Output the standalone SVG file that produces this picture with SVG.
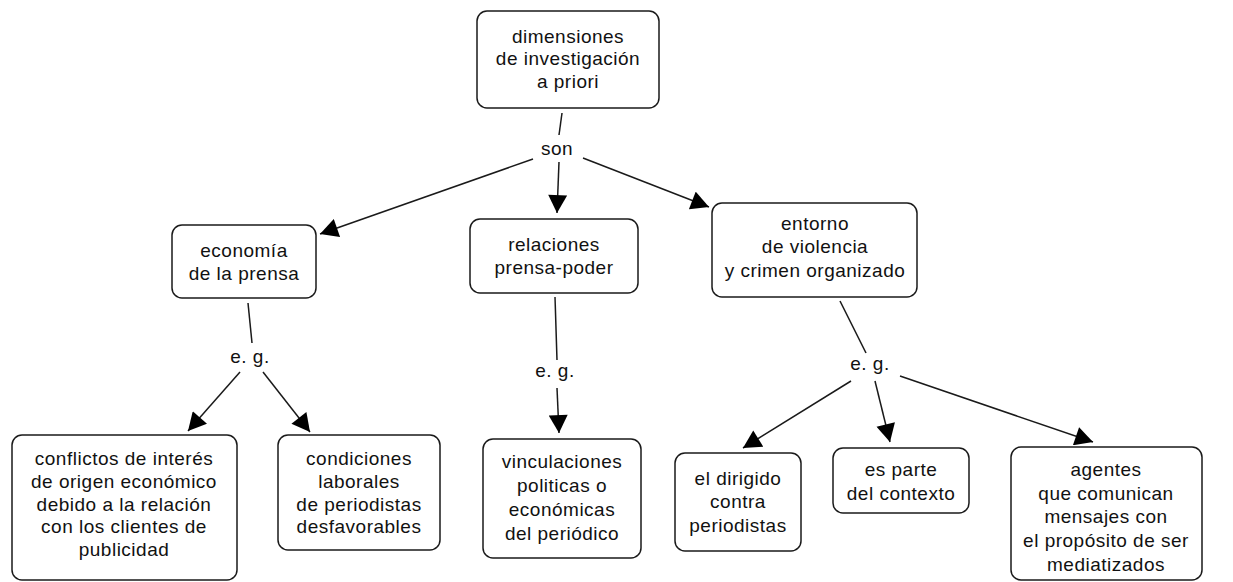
<svg xmlns="http://www.w3.org/2000/svg" width="1233" height="582" viewBox="0 0 1233 582">
<style>
.box{fill:#fff;stroke:#1a1a1a;stroke-width:1.5}
.t{font-family:"Liberation Sans",Arial,sans-serif;font-size:19px;letter-spacing:0.5px;fill:#111;text-anchor:middle}
.c{fill:none;stroke:#1a1a1a;stroke-width:1.5}
</style>
<defs>
<marker id="ah" markerUnits="userSpaceOnUse" markerWidth="19" markerHeight="19" viewBox="0 0 17 18" refX="17" refY="9" orient="auto">
<path d="M0,0 L17,9 L0,18 z" fill="#000"/>
</marker>
</defs>
<rect width="1233" height="582" fill="#fff"/>
<g id="connectors">
<line class="c" x1="562" y1="113" x2="559" y2="135"/>
<line class="c" x1="533" y1="159" x2="320" y2="234" marker-end="url(#ah)"/>
<line class="c" x1="559" y1="162" x2="557" y2="213" marker-end="url(#ah)"/>
<line class="c" x1="583" y1="158" x2="709" y2="207" marker-end="url(#ah)"/>
<line class="c" x1="248" y1="303" x2="252" y2="343"/>
<line class="c" x1="240" y1="372" x2="188" y2="431" marker-end="url(#ah)"/>
<line class="c" x1="263" y1="372" x2="310" y2="432" marker-end="url(#ah)"/>
<line class="c" x1="555" y1="297" x2="557" y2="360"/>
<line class="c" x1="557" y1="388" x2="559" y2="433" marker-end="url(#ah)"/>
<line class="c" x1="840" y1="301" x2="866" y2="353"/>
<line class="c" x1="851" y1="381" x2="743" y2="448" marker-end="url(#ah)"/>
<line class="c" x1="875" y1="381" x2="890" y2="442" marker-end="url(#ah)"/>
<line class="c" x1="900" y1="376" x2="1093" y2="442" marker-end="url(#ah)"/>
<text class="t" x="557" y="155">son</text>
<text class="t" x="250" y="363">e. g.</text>
<text class="t" x="555" y="377">e. g.</text>
<text class="t" x="870" y="370">e. g.</text>
</g>
<g id="n-top">
<rect class="box" x="477" y="11" width="182" height="97" rx="10"/>
<text class="t" x="568" y="43">dimensiones</text>
<text class="t" x="568" y="65">de investigación</text>
<text class="t" x="568" y="88">a priori</text>
</g>
<g id="n-economia">
<rect class="box" x="172" y="225" width="144" height="73" rx="10"/>
<text class="t" x="244" y="257">economía</text>
<text class="t" x="244" y="280">de la prensa</text>
</g>
<g id="n-relaciones">
<rect class="box" x="470" y="219" width="168" height="74" rx="10"/>
<text class="t" x="554" y="251">relaciones</text>
<text class="t" x="554" y="274">prensa-poder</text>
</g>
<g id="n-entorno">
<rect class="box" x="712" y="203" width="205" height="94" rx="10"/>
<text class="t" x="815" y="230">entorno</text>
<text class="t" x="815" y="253">de violencia</text>
<text class="t" x="815" y="277">y crimen organizado</text>
</g>
<g id="n-conflictos">
<rect class="box" x="12" y="435" width="225" height="145" rx="10"/>
<text class="t" x="124" y="465">conflictos de interés</text>
<text class="t" x="124" y="488">de origen económico</text>
<text class="t" x="124" y="511">debido a la relación</text>
<text class="t" x="124" y="533">con los clientes de</text>
<text class="t" x="124" y="556">publicidad</text>
</g>
<g id="n-condiciones">
<rect class="box" x="278" y="435" width="162" height="115" rx="10"/>
<text class="t" x="359" y="465">condiciones</text>
<text class="t" x="359" y="488">laborales</text>
<text class="t" x="359" y="511">de periodistas</text>
<text class="t" x="359" y="533">desfavorables</text>
</g>
<g id="n-vinculaciones">
<rect class="box" x="483" y="439" width="158" height="119" rx="10"/>
<text class="t" x="562" y="468">vinculaciones</text>
<text class="t" x="562" y="492">politicas o</text>
<text class="t" x="562" y="516">económicas</text>
<text class="t" x="562" y="540">del periódico</text>
</g>
<g id="n-dirigido">
<rect class="box" x="675" y="453" width="126" height="98" rx="10"/>
<text class="t" x="738" y="485">el dirigido</text>
<text class="t" x="738" y="508">contra</text>
<text class="t" x="738" y="532">periodistas</text>
</g>
<g id="n-parte">
<rect class="box" x="833" y="448" width="136" height="65" rx="10"/>
<text class="t" x="901" y="476">es parte</text>
<text class="t" x="901" y="500">del contexto</text>
</g>
<g id="n-agentes">
<rect class="box" x="1011" y="447" width="191" height="133" rx="10"/>
<text class="t" x="1106" y="476">agentes</text>
<text class="t" x="1106" y="500">que comunican</text>
<text class="t" x="1106" y="523">mensajes con</text>
<text class="t" x="1106" y="547">el propósito de ser</text>
<text class="t" x="1106" y="571">mediatizados</text>
</g>
</svg>
